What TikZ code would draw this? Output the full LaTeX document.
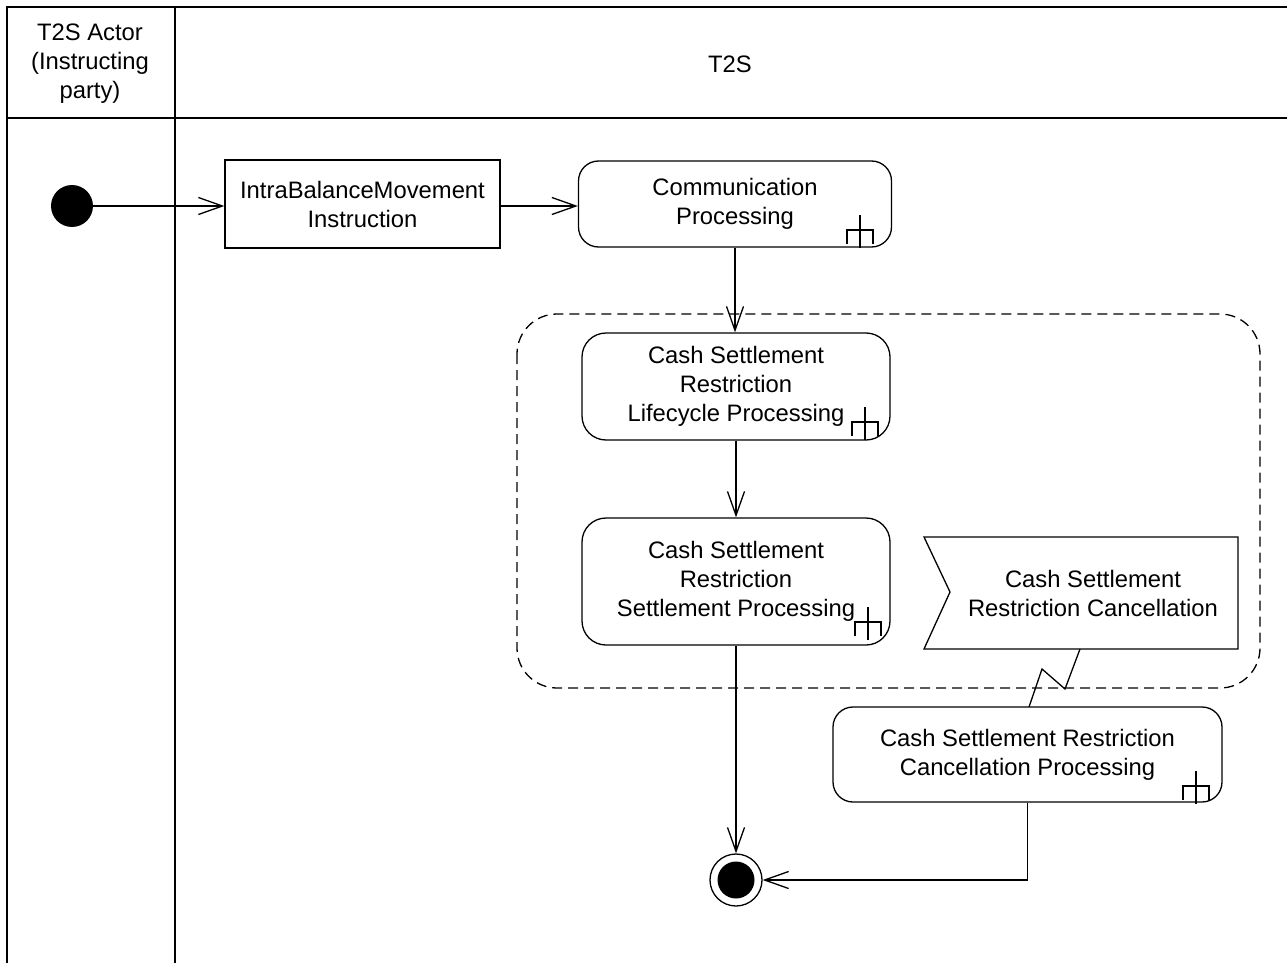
\documentclass[tikz,border=0pt]{standalone}
\usepackage{fontspec}
\setmainfont{Liberation Sans}
\usetikzlibrary{arrows.meta,calc}
\tikzset{
  lw/.style={line width=1.3pt},
  flow/.style={lw,-{Straight Barb[length=24pt,width=17pt,line width=1.3pt]}},
  txt/.style={font=\fontsize{23.8}{29}\selectfont,align=center,inner sep=0pt},
  actbox/.style={lw,draw,rectangle,txt},
  actround/.style={lw,draw,rectangle,rounded corners=20pt,txt},
  rake/.pic={\draw[lw] (-13,14) -- (-13,0) -- (13,0) -- (13,14); \draw[lw] (0,-15) -- (0,18);}
}
\begin{document}
\begin{tikzpicture}[x=1pt,y=-1pt]
\useasboundingbox (0,0) rectangle (1287,963);
% swimlane frame
\draw[lw] (1287,7) -- (7,7) -- (7,963);
\draw[lw] (7,118) -- (1287,118);
\draw[lw] (175,7) -- (175,963);
\node[txt] (hactor) at (90,64) {T2S Actor\\(Instructing\\party)};
\node[txt] (ht2s) at (730,64) {T2S};
% dashed region
\draw[lw,dash pattern=on 10pt off 6pt,rounded corners=40pt] (517,314) rectangle (1260,688);
% nodes
\node[circle,fill=black,minimum size=42pt,inner sep=0pt] (init) at (72,206) {};
\node[actbox,minimum width=275pt,minimum height=88pt] (ibm) at (362.5,204) {IntraBalanceMovement\\Instruction};
\node[actround,minimum width=313pt,minimum height=86pt] (comm) at (735,204) {Communication\\Processing};
\node[actround,rounded corners=24pt,minimum width=308pt,minimum height=107pt] (life) at (736,386.5) {Cash Settlement\\Restriction\\Lifecycle Processing};
\node[actround,rounded corners=24pt,minimum width=308pt,minimum height=127pt] (sett) at (736,581.5) {Cash Settlement\\Restriction\\Settlement Processing};
\node[actround,minimum width=389pt,minimum height=95pt] (cancproc) at (1027.5,754.5) {Cash Settlement Restriction\\Cancellation Processing};
% accept signal
\draw[lw] (924,537) -- (1238,537) -- (1238,649) -- (924,649) -- (950,592) -- cycle;
\node[txt] (sig) at (1093,593) {Cash Settlement\\Restriction Cancellation};
\coordinate (sigbot) at (1080,649);
\coordinate (ltop) at (1029,707);
% final node
\node[circle,draw,lw,minimum size=52pt,inner sep=0pt] (final) at (736,880) {};
\node[circle,fill=black,minimum size=37pt,inner sep=0pt] (finalin) at (736,880) {};
% rakes
\pic at (860,230) {rake};
\pic at (865,422) {rake};
\pic at (868,622) {rake};
\pic at (1196,786) {rake};
% connectors
\draw[flow] (init.east) -- (init.east -| ibm.west);
\draw[flow] (ibm.east |- init.east) -- (init.east -| comm.west);
\draw[flow] (comm.south) -- (comm.south |- life.north);
\draw[flow] (life.south) -- (sett.north);
\draw[flow] (sett.south) -- (final.north);
\draw[flow] (cancproc.south) |- (final.east);
\draw[lw] (sigbot) -- (1065,689) -- (1042,669) -- (ltop);
\end{tikzpicture}
\end{document}
